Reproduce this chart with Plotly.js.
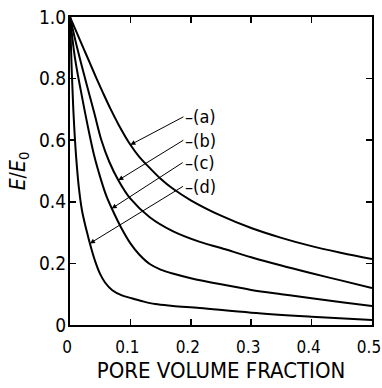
<!DOCTYPE html>
<html><head><meta charset="utf-8">
<script src="https://cdn.plot.ly/plotly-3.0.1.min.js"></script>
<style>html,body{margin:0;padding:0;background:#fff}#chart{width:382px;height:388px}</style>
</head><body><div id="chart"></div>
<script>
// Curve (a)
const xA = [0, 0.011, 0.022, 0.033, 0.044, 0.055, 0.066, 0.08, 0.1, 0.115, 0.132, 0.15, 0.17, 0.2, 0.25, 0.3, 0.35, 0.4, 0.45, 0.5];
const yA = [1.0, 0.95, 0.9, 0.85, 0.8, 0.752, 0.706, 0.652, 0.585, 0.545, 0.51, 0.475, 0.443, 0.405, 0.355, 0.315, 0.283, 0.256, 0.234, 0.214];
// Curve (b)
const xB = [0, 0.01, 0.025, 0.04, 0.052, 0.065, 0.08, 0.1, 0.132, 0.17, 0.215, 0.25, 0.3, 0.35, 0.4, 0.45, 0.5];
const yB = [1.0, 0.915, 0.8, 0.69, 0.6, 0.53, 0.47, 0.41, 0.35, 0.305, 0.27, 0.25, 0.22, 0.193, 0.168, 0.144, 0.12];
// Curve (c)
const xC = [0, 0.008, 0.018, 0.03, 0.04, 0.05, 0.06, 0.07, 0.085, 0.1, 0.115, 0.132, 0.15, 0.17, 0.2, 0.25, 0.3, 0.35, 0.4, 0.45, 0.5];
const yC = [1.0, 0.87, 0.76, 0.64, 0.55, 0.48, 0.42, 0.375, 0.315, 0.265, 0.228, 0.198, 0.18, 0.167, 0.152, 0.132, 0.114, 0.1, 0.087, 0.074, 0.062];
// Curve (d)
const xD = [0, 0.003, 0.006, 0.01, 0.015, 0.02, 0.027, 0.035, 0.042, 0.05, 0.058, 0.07, 0.085, 0.1, 0.12, 0.141, 0.17, 0.215, 0.3, 0.4, 0.5];
const yD = [1.0, 0.82, 0.68, 0.55, 0.44, 0.37, 0.31, 0.25, 0.205, 0.165, 0.138, 0.113, 0.097, 0.088, 0.077, 0.068, 0.062, 0.055, 0.04, 0.027, 0.016];

const curveLabels = ['(a)', '(b)', '(c)', '(d)'];
const labelX = [0.1, 0.08, 0.069, 0.033];
const labelY = [0.585, 0.47, 0.378, 0.265];

const xTickVals = [0, 0.1, 0.2, 0.3, 0.4, 0.5];
const xTickText = ['0', '0.1', '0.2', '0.3', '0.4', '0.5'];
const yTickVals = [0, 0.2, 0.4, 0.6, 0.8, 1.0];
const yTickText = ['0', '0.2', '0.4', '0.6', '0.8', '1.0'];

const FONT = '"Liberation Sans Narrow", "DejaVu Sans Condensed", "DejaVu Sans", sans-serif';
const series = [[xA, yA], [xB, yB], [xC, yC], [xD, yD]];
const traces = series.map(s => ({
  x: s[0], y: s[1], type: 'scatter', mode: 'lines',
  line: {color: '#000', width: 2, shape: 'spline', smoothing: 1},
  hoverinfo: 'skip', showlegend: false
}));

const tails = [[53, -28], [65, -40], [71, -46], [93, -57]];
const annotations = curveLabels.map((t, i) => ({
  x: labelX[i], y: labelY[i], xref: 'x', yref: 'y',
  text: '–' + t, showarrow: true, ax: tails[i][0], ay: tails[i][1],
  xanchor: 'left', yanchor: 'middle',
  arrowhead: 2, arrowsize: 1, arrowwidth: 1, arrowcolor: '#000',
  font: {family: FONT, size: 18, color: '#000'}
}));

const layout = {
  width: 382, height: 388,
  margin: {l: 70, r: 10, t: 17, b: 63},
  paper_bgcolor: '#fff', plot_bgcolor: '#fff',
  font: {family: FONT, color: '#000', size: 19},
  xaxis: {
    range: [0, 0.5], tickvals: xTickVals, ticktext: xTickText,
    ticks: 'inside', ticklen: 6, tickwidth: 1.5, tickcolor: '#000',
    showline: true, linewidth: 2, linecolor: '#000', mirror: 'allticks',
    showgrid: false, zeroline: false, fixedrange: true,
    ticklabeloverflow: 'allow', ticklabelstandoff: 6, ticklabelshift: -3,
    tickfont: {family: FONT, size: 17, color: '#000'},
    title: {text: 'PORE VOLUME FRACTION', font: {family: FONT, size: 22, color: '#000'}, standoff: 6}
  },
  yaxis: {
    range: [0, 1.0], tickvals: yTickVals, ticktext: yTickText,
    ticks: 'inside', ticklen: 6, tickwidth: 1.5, tickcolor: '#000',
    showline: true, linewidth: 2, linecolor: '#000', mirror: 'allticks',
    showgrid: false, zeroline: false, fixedrange: true,
    ticklabeloverflow: 'allow', ticklabelstandoff: -2,
    tickfont: {family: FONT, size: 19, color: '#000'},
    title: {text: '<i>E</i>/<i>E</i><sub>0</sub>', font: {family: FONT, size: 21, color: '#000'}, standoff: 8}
  },
  annotations: annotations
};

Plotly.newPlot('chart', traces, layout, {staticPlot: true, displayModeBar: false});
</script>
</body></html>
